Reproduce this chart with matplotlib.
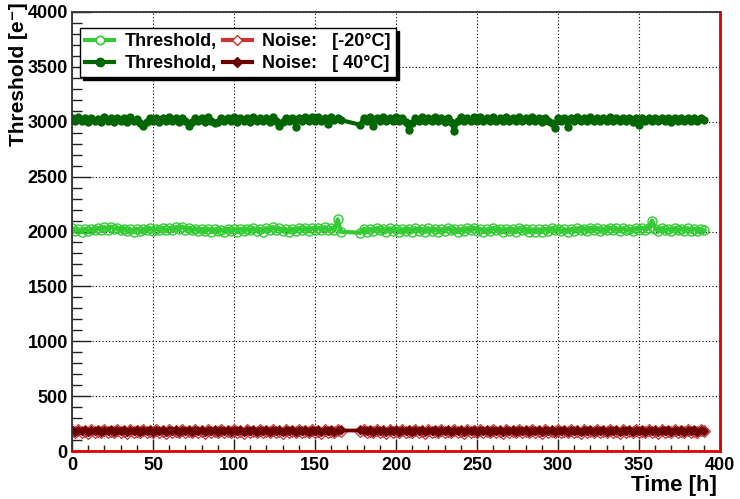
import numpy as np
import matplotlib
matplotlib.use("Agg")
import matplotlib.pyplot as plt
from matplotlib.lines import Line2D
from matplotlib.font_manager import FontProperties
from matplotlib.ticker import MultipleLocator

# ---------------- data ----------------
time_a = np.arange(0, 167, 2)        # 0 .. 166 h
time_b = np.arange(178, 391, 2)      # 178 .. 390 h
time_h = np.concatenate([time_a, time_b])

thr_m20 = [
    2030, 2005, 2020, 2000, 2025, 2005, 2020, 2010, 2030, 2015,
    2040, 2015, 2045, 2020, 2035, 2010, 2025, 2005, 2020, 2000,
    2025, 2005, 2020, 2010, 2030, 2005, 2025, 2010, 2035, 2010,
    2030, 2015, 2040, 2020, 2045, 2015, 2035, 2010, 2025, 2005,
    2020, 2005, 2025, 2000, 2020, 2005, 2015, 2000, 2025, 2005,
    2020, 2000, 2025, 2005, 2020, 2010, 2030, 2005, 2020, 2000,
    2030, 2010, 2040, 2015, 2030, 2005, 2020, 2000, 2025, 2005,
    2030, 2010, 2035, 2005, 2030, 2010, 2035, 2015, 2040, 2010,
    2030, 2015, 2110, 1998,
    1988,
    2025, 2000, 2020, 2005, 2030, 2010, 2025, 2000, 2030, 2005,
    2025, 2000, 2020, 2005, 2025, 2000, 2030, 2005, 2020, 2000,
    2030, 2005, 2025, 2000, 2020, 2005, 2030, 2010, 2025, 2000,
    2020, 2005, 2030, 2010, 2035, 2005, 2025, 2000, 2020, 2005,
    2030, 2010, 2025, 2000, 2020, 2005, 2025, 2000, 2030, 2010,
    2025, 2000, 2020, 1995, 2020, 2000, 2025, 2005, 2030, 2010,
    2025, 2005, 2020, 2000, 2020, 2005, 2030, 2010, 2025, 2005,
    2035, 2010, 2030, 2005, 2025, 2010, 2035, 2015, 2030, 2005,
    2030, 2010, 2025, 2005, 2030, 2010, 2035, 2015, 2030, 2100,
    2025, 2005, 2030, 2010, 2025, 2005, 2030, 2010, 2025, 2005,
    2030, 2005, 2025, 2005, 2020, 2010,
]

thr_p40 = [
    3035, 3005, 3040, 3010, 3030, 2995, 3035, 3005, 3025, 3000,
    3040, 3010, 3030, 3000, 3035, 3005, 3030, 2995, 3040, 3010,
    3025, 2990, 2960, 3000, 3030, 3005, 3035, 3000, 3030, 3010,
    3040, 3005, 3035, 3000, 3030, 3010, 2965, 2995, 3035, 3005,
    3030, 3000, 3040, 3010, 2985, 3000, 3035, 3010, 3030, 3005,
    3040, 3000, 3035, 3010, 3030, 2995, 3040, 3005, 3030, 3010,
    3035, 3000, 3040, 3005, 2965, 2995, 3030, 3005, 3035, 2955,
    3030, 3010, 3040, 3005, 3045, 3010, 3040, 3005, 3035, 2980,
    3040, 3015, 3035, 3015,
    2972,
    3035, 3010, 3040, 2960, 3030, 3005, 3040, 3010, 3035, 3005,
    3040, 3010, 3035, 3000, 2925, 2990, 3030, 3005, 3040, 3010,
    3035, 3005, 3040, 3010, 3030, 3000, 3035, 2995, 2920, 3005,
    3040, 3010, 3035, 3005, 3045, 3010, 3040, 3005, 3035, 3010,
    3040, 3005, 3035, 3010, 3040, 3005, 3030, 3010, 3040, 3005,
    3035, 3010, 3040, 3005, 3030, 3000, 3035, 3005, 2990, 2945,
    3030, 3005, 3035, 2950, 3030, 3005, 3040, 3010, 3035, 3005,
    3040, 3010, 3035, 3005, 3030, 3010, 3040, 3005, 3035, 3010,
    3030, 3005, 3035, 3000, 3030, 2970, 3035, 3005, 3030, 3010,
    3035, 3005, 3030, 3010, 3035, 3000, 3030, 3010, 3035, 3005,
    3030, 3010, 3035, 3005, 3030, 3015,
]

noise_m20 = [
    182, 170, 190, 172, 186, 168, 188, 174, 184, 170,
    188, 172, 186, 170, 190, 174, 184, 168, 188, 172,
    186, 170, 190, 174, 184, 170, 188, 172, 186, 168,
    190, 174, 186, 170, 188, 172, 184, 170, 190, 174,
    186, 168, 188, 172, 184, 170, 190, 174, 186, 170,
    188, 172, 184, 168, 190, 174, 186, 170, 188, 172,
    184, 170, 190, 174, 186, 168, 188, 172, 184, 170,
    190, 174, 186, 170, 188, 172, 184, 168, 190, 174,
    186, 170, 188, 185,
    185,
    190, 172, 186, 170, 188, 174, 184, 168, 190, 172,
    186, 170, 188, 174, 184, 170, 190, 172, 186, 168,
    188, 174, 184, 170, 190, 172, 186, 170, 188, 174,
    184, 168, 190, 172, 186, 170, 188, 174, 184, 170,
    190, 172, 186, 168, 188, 174, 184, 170, 190, 172,
    186, 170, 188, 174, 184, 168, 190, 172, 186, 170,
    188, 174, 184, 170, 190, 172, 186, 168, 188, 174,
    184, 170, 190, 172, 186, 170, 188, 174, 184, 168,
    190, 172, 186, 170, 188, 174, 184, 170, 190, 172,
    186, 168, 188, 174, 184, 170, 190, 172, 186, 170,
    188, 174, 184, 170, 190, 178,
]

noise_p40 = [
    190, 176, 194, 178, 192, 176, 195, 180, 190, 176,
    194, 178, 190, 176, 195, 180, 192, 176, 194, 178,
    190, 176, 194, 180, 192, 176, 195, 178, 190, 176,
    194, 180, 192, 176, 195, 178, 190, 176, 194, 180,
    192, 176, 195, 178, 190, 176, 194, 180, 192, 176,
    195, 178, 190, 176, 194, 180, 192, 176, 195, 178,
    190, 176, 194, 180, 192, 176, 195, 178, 190, 176,
    194, 180, 192, 176, 195, 178, 190, 176, 194, 180,
    192, 176, 194, 188,
    188,
    194, 178, 192, 176, 195, 180, 190, 176, 194, 178,
    192, 176, 195, 180, 190, 176, 194, 178, 192, 176,
    195, 180, 190, 176, 194, 178, 192, 176, 195, 180,
    190, 176, 194, 178, 192, 176, 195, 180, 190, 176,
    194, 178, 192, 176, 195, 180, 190, 176, 194, 178,
    192, 176, 195, 180, 190, 176, 194, 178, 192, 176,
    195, 180, 190, 176, 194, 178, 192, 176, 195, 180,
    190, 176, 194, 178, 192, 176, 195, 180, 190, 176,
    194, 178, 192, 176, 195, 180, 190, 176, 194, 178,
    192, 176, 195, 180, 190, 176, 194, 178, 192, 176,
    195, 180, 190, 176, 194, 182,
]

legend_labels = ["Threshold,", "Threshold,", "Noise:   [-20\u00b0C]", "Noise:   [ 40\u00b0C]"]
x_label = "Time [h]"
y_label = "Threshold [e\u207b]"

# ---------------- style ----------------
c_thr_m20 = "#33cc33"
c_thr_p40 = "#006600"
c_noi_m20 = "#cc3333"
c_noi_p40 = "#6b0000"
bold = FontProperties(family=["Liberation Sans", "DejaVu Sans"], weight="bold", size=13)

fig = plt.figure(figsize=(7.40, 4.99), dpi=100)
W, H = 740, 499
ax = fig.add_axes([72 / W, 1 - 451 / H, (720 - 72) / W, (451 - 12) / H])

ax.plot(time_h, thr_m20, color=c_thr_m20, lw=3.0, marker="o", ms=6.5, mfc="none",
        mec=c_thr_m20, mew=1.0)
ax.plot(time_h, thr_p40, color=c_thr_p40, lw=3.0, marker="o", ms=5.0,
        mfc=c_thr_p40, mec=c_thr_p40)
ax.plot(time_h, noise_m20, color=c_noi_m20, lw=2.5, marker="D", ms=6.0, mfc="none",
        mec=c_noi_m20, mew=0.9)
ax.plot(time_h, noise_p40, color=c_noi_p40, lw=2.5, marker="D", ms=4.5,
        mfc=c_noi_p40, mec=c_noi_p40)

ax.set_xlim(0, 400)
ax.set_ylim(0, 4000)
ax.xaxis.set_major_locator(MultipleLocator(50))
ax.xaxis.set_minor_locator(MultipleLocator(10))
ax.yaxis.set_major_locator(MultipleLocator(500))
ax.yaxis.set_minor_locator(MultipleLocator(100))
ax.tick_params(which="both", direction="in", top=False, right=False, colors="#222222")
ax.tick_params(axis="x", which="major", length=8.6, width=1.0, pad=4)
ax.tick_params(axis="x", which="minor", length=4.3, width=1.0)
ax.tick_params(axis="y", which="major", length=14, width=1.0, pad=3)
ax.tick_params(axis="y", which="minor", length=7, width=1.0)
for lab in ax.get_xticklabels() + ax.get_yticklabels():
    lab.set_fontproperties(bold)
    lab.set_color("black")

ax.set_axisbelow(True)
ax.grid(which="major", color="black", linestyle=(0, (1, 2)), linewidth=0.8)

for s in ("left", "top"):
    ax.spines[s].set_color("#333333")
    ax.spines[s].set_linewidth(1.3)
for s in ("bottom", "right"):
    ax.spines[s].set_color("#dd0000")
    ax.spines[s].set_linewidth(2.0)

handles = [
    Line2D([], [], color=c_thr_m20, lw=3, marker="o", ms=6, mfc="white", mec=c_thr_m20, mew=1.2),
    Line2D([], [], color=c_thr_p40, lw=3, marker="o", ms=6, mfc=c_thr_p40, mec=c_thr_p40),
    Line2D([], [], color=c_noi_m20, lw=3, marker="D", ms=5, mfc="white", mec=c_noi_m20, mew=1.0),
    Line2D([], [], color=c_noi_p40, lw=3, marker="D", ms=5, mfc=c_noi_p40, mec=c_noi_p40),
]
leg = ax.legend(handles, legend_labels, ncol=2, loc="upper left",
                bbox_to_anchor=(80 / W, 1 - 28 / H), bbox_transform=fig.transFigure,
                borderaxespad=0, frameon=True, fancybox=False, edgecolor="black",
                framealpha=1, shadow={"color": "black", "alpha": 1},
                prop=bold, handlelength=1.6, handletextpad=0.6, columnspacing=0.3,
                borderpad=0.3, labelspacing=0.25)
leg.get_frame().set_linewidth(1.0)

fig.text(717 / W, 1 - 486 / H, x_label, ha="right", va="center",
         fontproperties=FontProperties(family=["Liberation Sans", "DejaVu Sans"], weight="bold", size=16))
fig.text(19 / W, 1 - 146 / H, y_label, ha="center", va="bottom", rotation=90,
         fontproperties=FontProperties(family=["Liberation Sans", "DejaVu Sans"], weight="bold", size=15))

fig.savefig("out.png", dpi=100)
